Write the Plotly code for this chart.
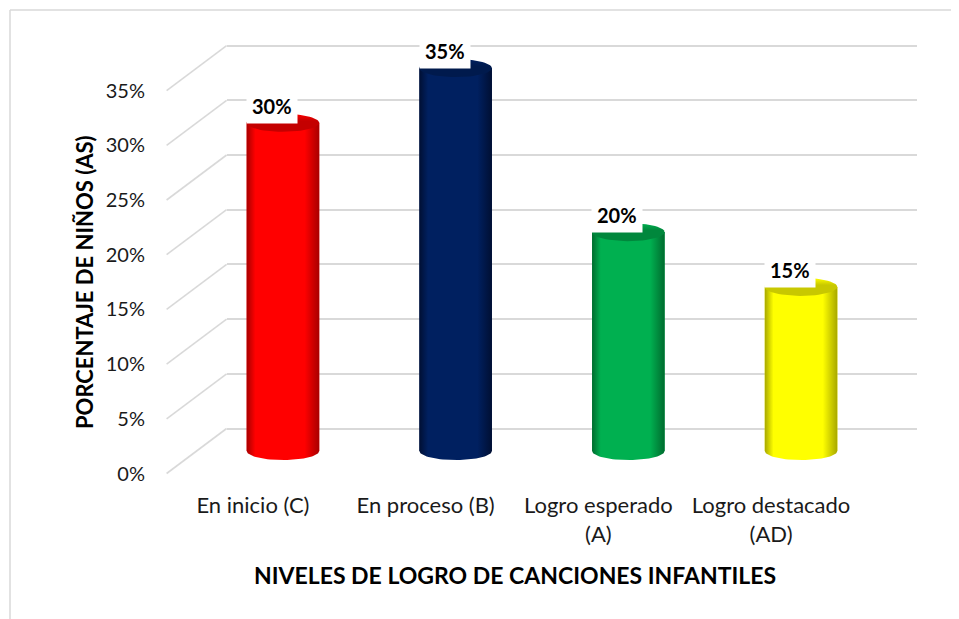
import numpy as np
import plotly.graph_objects as go

# ---------------- data ----------------
categories = ["En inicio (C)", "En proceso (B)", "Logro esperado<br>(A)", "Logro destacado<br>(AD)"]
values = [0.30, 0.35, 0.20, 0.15]
value_labels = ["30%", "35%", "20%", "15%"]
tick_values = [0, 0.05, 0.10, 0.15, 0.20, 0.25, 0.30, 0.35]
tick_labels = ["0%", "5%", "10%", "15%", "20%", "25%", "30%", "35%"]
bar_colors = ["#ff0000", "#002060", "#00b050", "#ffff00"]
dark_colors = ["#a80000", "#000f33", "#006b2e", "#a8a800"]
top_colors = ["#c40000", "#001a4d", "#00873c", "#c8c800"]

# ---------------- geometry (layout only) ----------------
OFF = 8  # page body margin
W, H = 951, 611
def fx(p):
    return (p - OFF) / W
def fy(p):
    return 1 - (p - OFF) / H

BASE_PX = 451.0       # pixel row of 0% at mid depth
PX_PER_UNIT = 1094.0  # pixels per 100%
DEPTH_DY = 22.5       # half depth offset (px)
DEPTH_DX = 30.0
TOP_PX, BOT_PX = 20.0, 520.0
r1 = (BASE_PX - TOP_PX) / PX_PER_UNIT
r0 = -(BOT_PX - BASE_PX) / PX_PER_UNIT
s = DEPTH_DY / PX_PER_UNIT
ydom = [fy(BOT_PX), fy(TOP_PX)]

MID_L, MID_R = 196.6, 887.4
bar_w = 0.42
ell = 9.0 / PX_PER_UNIT

fig = go.Figure()

# bars (mid depth)
fig.add_trace(go.Bar(
    x=list(range(len(values))), y=values, width=bar_w,
    marker=dict(color=bar_colors, line=dict(width=0)),
    xaxis="x2", yaxis="y2", hoverinfo="skip", showlegend=False))

# cylinder shading built from the bar values
for i, v in enumerate(values):
    t = np.linspace(0, np.pi, 40)
    xs = [i - bar_w / 2, i + bar_w / 2, i + bar_w / 2] + list(i + bar_w / 2 * np.cos(t)) + [i - bar_w / 2]
    ys = [v, v, 0] + list(-ell * np.sin(t)) + [v]
    fig.add_trace(go.Scatter(
        x=xs, y=ys, mode="lines", fill="toself", line=dict(width=0),
        fillgradient=dict(type="horizontal", colorscale=[
            [0, dark_colors[i]], [0.12, bar_colors[i]], [0.45, bar_colors[i]],
            [0.8, bar_colors[i]], [1, dark_colors[i]]]),
        xaxis="x2", yaxis="y2", hoverinfo="skip", showlegend=False))
    tt = np.linspace(0, 2 * np.pi, 60)
    fig.add_trace(go.Scatter(
        x=list(i + bar_w / 2 * np.cos(tt)), y=list(v + ell * np.sin(tt)),
        mode="lines", fill="toself", line=dict(width=0),
        fillgradient=dict(type="vertical", colorscale=[
            [0, top_colors[i]], [0.6, top_colors[i]], [1, bar_colors[i]]]),
        xaxis="x2", yaxis="y2", hoverinfo="skip", showlegend=False))

# empty traces so that the back-wall and front-label subplots exist
fig.add_trace(go.Scatter(x=[], y=[], xaxis="x", yaxis="y", showlegend=False))
fig.add_trace(go.Scatter(x=[], y=[], xaxis="x3", yaxis="y3", showlegend=False))

# value labels
for i, (v, lab) in enumerate(zip(values, value_labels)):
    fig.add_annotation(x=i, y=v, xref="x2", yref="y2", text="<b>" + lab + "</b>",
                       showarrow=False, yshift=17, xshift=-11, bgcolor="white",
                       borderpad=5, font=dict(family="Lato", size=20, color="#000000"))

# perspective diagonals of the back-wall grid
shapes = []
for v in tick_values:
    shapes.append(dict(type="line", xref="paper", yref="y2",
                       x0=fx(MID_L - DEPTH_DX), x1=fx(MID_L + DEPTH_DX),
                       y0=v - s, y1=v + s, line=dict(color="#d9d9d9", width=1.6), layer="below"))
# chart area border (top and left)
shapes.append(dict(type="line", xref="paper", yref="paper", x0=fx(10), x1=1, y0=fy(10), y1=fy(10),
                   line=dict(color="#d9d9d9", width=1.5)))
shapes.append(dict(type="line", xref="paper", yref="paper", x0=fx(10), x1=fx(10), y0=fy(10), y1=0,
                   line=dict(color="#d9d9d9", width=1.5)))

axis_off = dict(showticklabels=False, ticks="", showline=False, zeroline=False, showgrid=False)

fig.update_layout(
    width=W, height=H, margin=dict(l=0, r=0, t=0, b=0),
    paper_bgcolor="white", plot_bgcolor="rgba(0,0,0,0)",
    shapes=shapes,
    # back wall grid
    xaxis=dict(domain=[fx(MID_L + DEPTH_DX), fx(MID_R + DEPTH_DX)], range=[-0.5, 3.5], anchor="y", **axis_off),
    yaxis=dict(domain=ydom, range=[r0 - s, r1 - s], anchor="x", tickvals=tick_values,
               showgrid=True, gridcolor="#d9d9d9", gridwidth=1.6,
               showticklabels=False, ticks="", showline=False, zeroline=False),
    # bars (mid depth)
    xaxis2=dict(domain=[fx(MID_L), fx(MID_R)], range=[-0.5, 3.5], anchor="y2", **axis_off),
    yaxis2=dict(domain=ydom, range=[r0, r1], anchor="x2", **axis_off),
    # front labels
    xaxis3=dict(domain=[fx(MID_L - DEPTH_DX), fx(MID_R - DEPTH_DX)], range=[-0.5, 3.5],
                anchor="free", position=fy(490), tickvals=list(range(len(categories))),
                ticktext=categories, ticks="", showline=False, zeroline=False, showgrid=False,
                tickfont=dict(family="Lato", size=22, color="#1a1a1a")),
    yaxis3=dict(domain=ydom, range=[r0 + s, r1 + s], anchor="free", position=fx(145),
                tickvals=tick_values, ticktext=tick_labels, ticks="", showline=False,
                zeroline=False, showgrid=False,
                tickfont=dict(family="Lato", size=20, color="#1a1a1a")),
)

fig.add_annotation(xref="paper", yref="paper", x=fx(85), y=fy(282), xanchor="center", yanchor="middle",
                   text="<b>PORCENTAJE DE NIÑOS (AS)</b>",
                   textangle=-90, showarrow=False, font=dict(family="Lato", size=22, color="#000000"))
fig.add_annotation(xref="paper", yref="paper", x=fx(515), y=fy(575), xanchor="center", yanchor="middle",
                   text="<b>NIVELES DE LOGRO DE CANCIONES INFANTILES</b>",
                   showarrow=False, font=dict(family="Lato", size=23, color="#000000"))

fig.write_html("out.html")
